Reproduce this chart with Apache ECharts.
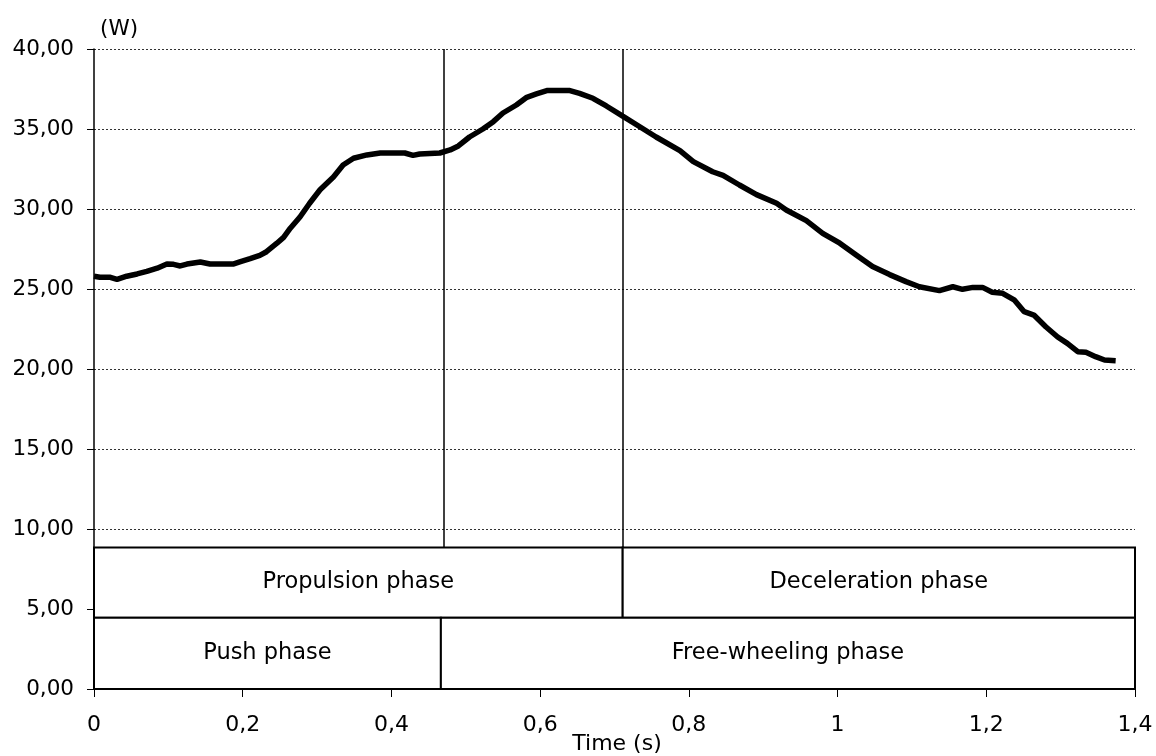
<!DOCTYPE html>
<html>
<head>
<meta charset="utf-8">
<script src="https://cdn.jsdelivr.net/npm/echarts@6/dist/echarts.min.js"></script>
<style>
html,body{margin:0;padding:0;background:#fff;}
#chart{width:1156px;height:756px;}
</style>
</head>
<body>
<div id="chart"></div>
<script>
// Time (s)
var timeValues = [0, 0.008, 0.022, 0.031, 0.044, 0.058, 0.071, 0.085, 0.098, 0.107, 0.116, 0.125, 0.143, 0.156, 0.187, 0.196, 0.210, 0.223, 0.232, 0.246, 0.255, 0.264, 0.277, 0.290, 0.304, 0.322, 0.335, 0.349, 0.367, 0.385, 0.418, 0.429, 0.438, 0.465, 0.479, 0.490, 0.505, 0.523, 0.537, 0.550, 0.568, 0.582, 0.595, 0.609, 0.640, 0.653, 0.671, 0.689, 0.711, 0.734, 0.756, 0.788, 0.806, 0.832, 0.846, 0.868, 0.891, 0.918, 0.931, 0.958, 0.980, 1.003, 1.025, 1.047, 1.070, 1.092, 1.110, 1.137, 1.155, 1.168, 1.182, 1.195, 1.208, 1.222, 1.238, 1.251, 1.264, 1.280, 1.296, 1.309, 1.323, 1.334, 1.347, 1.359, 1.374];
// Power (W)
var powerValues = [25.8, 25.73, 25.73, 25.6, 25.8, 25.94, 26.1, 26.3, 26.56, 26.54, 26.44, 26.56, 26.69, 26.56, 26.56, 26.7, 26.9, 27.1, 27.33, 27.86, 28.23, 28.8, 29.5, 30.36, 31.2, 32.0, 32.75, 33.17, 33.38, 33.5, 33.5, 33.35, 33.44, 33.5, 33.69, 33.94, 34.5, 35.0, 35.46, 36.0, 36.5, 36.98, 37.19, 37.4, 37.4, 37.23, 36.92, 36.44, 35.8, 35.14, 34.5, 33.65, 32.96, 32.33, 32.1, 31.5, 30.9, 30.36, 29.94, 29.27, 28.48, 27.86, 27.13, 26.4, 25.9, 25.46, 25.14, 24.9, 25.14, 24.98, 25.1, 25.1, 24.8, 24.73, 24.3, 23.58, 23.37, 22.64, 22.0, 21.6, 21.08, 21.04, 20.77, 20.56, 20.52];

// Phase boxes
var phaseLabels = ['Propulsion phase', 'Deceleration phase', 'Push phase', 'Free-wheeling phase'];
var phaseStart = [0, 0.711, 0, 0.4665];
var phaseEnd = [0.711, 1.4, 0.4665, 1.4];
var phaseLow = [4.45, 4.45, 0, 0];
var phaseHigh = [8.85, 8.85, 4.45, 4.45];

// Vertical phase markers
var markerTimes = [0.4705, 0.711];
var markerTop = 40;
var markerBottom = 8.85;

// Axis settings
var xMin = 0, xMax = 1.4, xStep = 0.2;
var yMin = 0, yMax = 40, yStep = 5;

var FONT = 'DejaVu Sans';

var lineData = timeValues.map(function (t, i) { return [t, powerValues[i]]; });
var phaseData = phaseLabels.map(function (l, i) { return [phaseStart[i], phaseEnd[i], phaseLow[i], phaseHigh[i], l]; });
var markData = markerTimes.map(function (t) { return [{coord: [t, markerTop]}, {coord: [t, markerBottom]}]; });

var chart = echarts.init(document.getElementById('chart'), null, {renderer: 'canvas'});
chart.setOption({
  backgroundColor: '#ffffff',
  animation: false,
  grid: {left: 94, right: 21, top: 49, bottom: 67, containLabel: false},
  xAxis: {
    type: 'value', min: xMin, max: xMax, interval: xStep,
    axisLine: {show: false},
    axisTick: {show: true, inside: false, length: 8, lineStyle: {color: '#000', width: 1}},
    splitLine: {show: false},
    axisLabel: {
      margin: 25, color: '#000', fontFamily: FONT, fontSize: 22,
      formatter: function (v) { return String(+v.toFixed(1)).replace('.', ','); }
    }
  },
  yAxis: {
    type: 'value', min: yMin, max: yMax, interval: yStep,
    axisLine: {show: true, lineStyle: {color: '#000', width: 1.5}},
    axisTick: {show: true, inside: false, length: 7, lineStyle: {color: '#000', width: 1}},
    splitLine: {show: true, lineStyle: {color: '#333', width: 1, type: [2, 2]}},
    axisLabel: {
      margin: 20, color: '#000', fontFamily: FONT, fontSize: 21.5,
      formatter: function (v) { return v.toFixed(2).replace('.', ','); }
    }
  },
  graphic: [
    {type: 'text', left: 100, top: 18, style: {text: '(W)', font: '21.5px "DejaVu Sans"', fill: '#000'}},
    {type: 'text', x: 617, y: 744, style: {text: 'Time (s)', font: '22px "DejaVu Sans"', fill: '#000', align: 'center', verticalAlign: 'middle'}}
  ],
  series: [
    {
      type: 'line', data: lineData, showSymbol: false, smooth: false, z: 5,
      lineStyle: {color: '#000', width: 5.5},
      markLine: {
        silent: true, symbol: 'none', animation: false,
        label: {show: false},
        lineStyle: {color: '#000', width: 1.5, type: 'solid'},
        data: markData
      }
    },
    {
      type: 'custom', z: 4, data: phaseData,
      renderItem: function (params, api) {
        var p0 = api.coord([api.value(0), api.value(3)]);
        var p1 = api.coord([api.value(1), api.value(2)]);
        return {
          type: 'group',
          children: [
            {type: 'rect', shape: {x: p0[0], y: p0[1], width: p1[0] - p0[0], height: p1[1] - p0[1]},
             style: {fill: '#fff', stroke: '#000', lineWidth: 2}},
            {type: 'text', style: {text: phaseLabels[params.dataIndex], x: (p0[0] + p1[0]) / 2, y: (p0[1] + p1[1]) / 2,
              align: 'center', verticalAlign: 'middle', font: '22.5px "DejaVu Sans"', fill: '#000'}}
          ]
        };
      }
    }
  ]
});
</script>
</body>
</html>
